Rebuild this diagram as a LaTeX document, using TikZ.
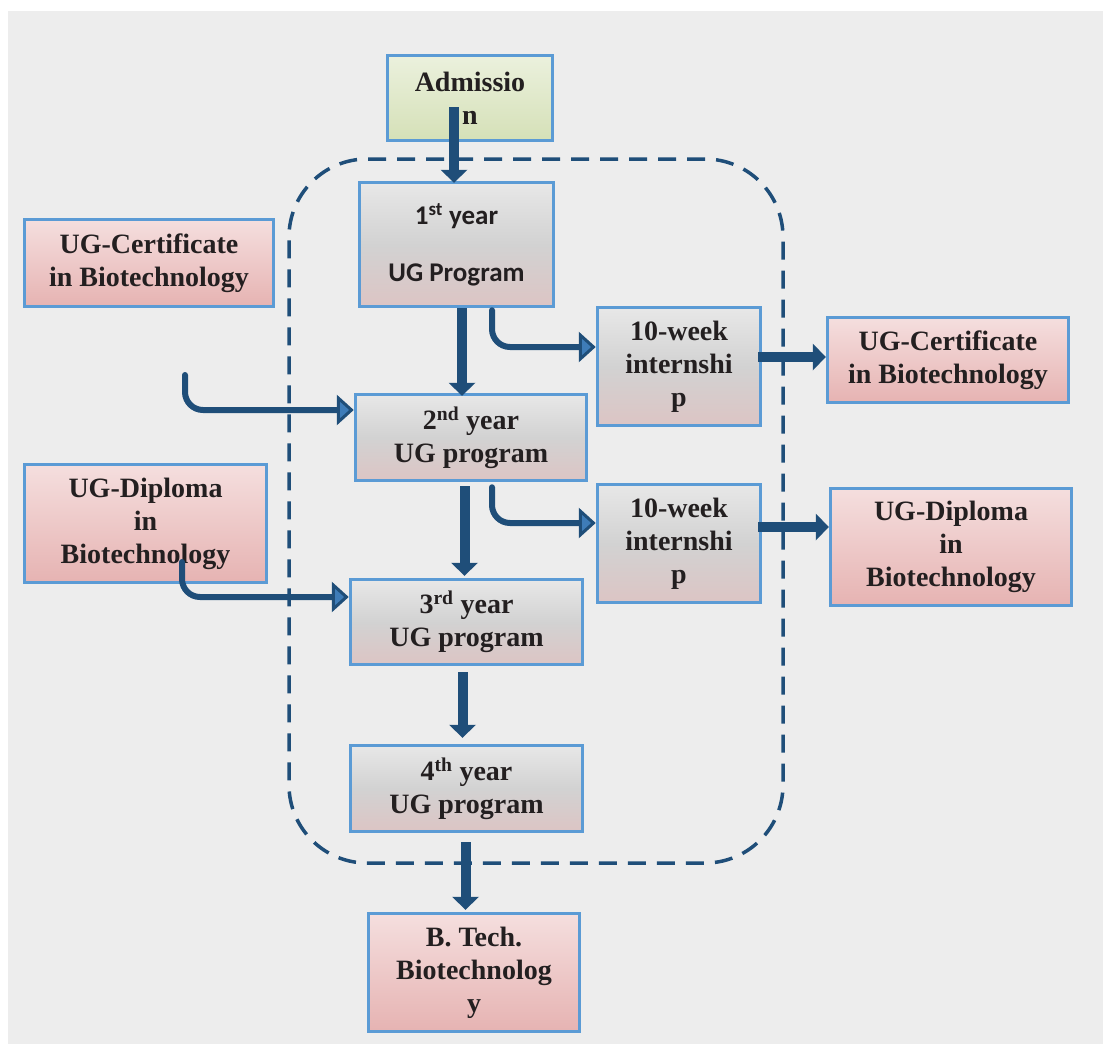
\documentclass[tikz,border=0pt]{standalone}
\usepackage{fontspec}
\setmainfont{Liberation Serif}
\newfontfamily\calib{Carlito}
\usetikzlibrary{arrows.meta}
\definecolor{bgc}{HTML}{EDEDED}
\definecolor{bord}{HTML}{5B9BD5}
\definecolor{dblue}{HTML}{1F4E79}
\definecolor{tblack}{HTML}{231F20}
\definecolor{headfill}{HTML}{3E7CB8}
\definecolor{yTop}{HTML}{FDFDFD}
\definecolor{yMid}{HTML}{D2D2D2}
\definecolor{yBot}{HTML}{E6B7B6}
\definecolor{pTop}{HTML}{FCF4F4}
\definecolor{pDark}{HTML}{E4ADAC}
\definecolor{pBot}{HTML}{EBC4C3}
\definecolor{gTop}{HTML}{F6F9F0}
\definecolor{gDark}{HTML}{D2DEB2}
\definecolor{gBot}{HTML}{D9E3C0}
\pgfdeclareverticalshading{yearsh}{100bp}{color(0bp)=(yBot); color(50bp)=(yMid); color(100bp)=(yTop)}
\pgfdeclareverticalshading{pinksh}{100bp}{color(0bp)=(pBot); color(18bp)=(pDark); color(100bp)=(pTop)}
\pgfdeclareverticalshading{greensh}{100bp}{color(0bp)=(gBot); color(18bp)=(gDark); color(100bp)=(gTop)}
\tikzset{
  box/.style={draw=bord, line width=3.5pt, align=center, text=tblack, inner sep=0pt,
    font=\bfseries\fontsize{28}{33}\selectfont},
  yearbox/.style={box, shading=yearsh},
  pinkbox/.style={box, shading=pinksh},
  greenbox/.style={box, shading=greensh},
  bigarrow/.style={draw=dblue, line width=10pt, -{Triangle[length=13pt,width=27pt,line width=0pt]}},
  curvearrow/.style={draw=dblue, line width=6pt, line cap=round, rounded corners=18pt,
    -{Triangle[length=17pt,width=30pt,fill=headfill,line width=3pt]}},
  dashbox/.style={draw=dblue, line width=3.5pt, dash pattern=on 18pt off 11pt, rounded corners=78pt, inner sep=0pt}
}
\begin{document}
\begin{tikzpicture}[x=1pt,y=-1pt]
\useasboundingbox (0,0) rectangle (1103,1044);
\fill[bgc] (8,11) rectangle (1103,1044);

\node[dashbox, minimum width=494pt, minimum height=704pt] (grp) at (536,511) {};

\node[greenbox, minimum width=165pt, minimum height=85pt] (adm) at (470,98) {Admissio\\n};
\node[yearbox, font=\calib\bfseries\fontsize{27}{33}\selectfont, minimum width=194pt, minimum height=124pt] (y1) at (456.5,244.5) {1\textsuperscript{st} year\\[24pt]UG Program};
\node[yearbox, minimum width=231pt, minimum height=86pt] (y2) at (471,437.5) {2\textsuperscript{nd} year\\UG program};
\node[yearbox, minimum width=232pt, minimum height=85pt] (y3) at (466.5,622) {3\textsuperscript{rd} year\\UG program};
\node[yearbox, minimum width=232pt, minimum height=86pt] (y4) at (466.5,788.5) {4\textsuperscript{th} year\\UG program};
\node[pinkbox, minimum width=211pt, minimum height=118pt] (bt) at (474,972.5) {B. Tech.\\Biotechnolog\\y};
\node[yearbox, minimum width=163pt, minimum height=118pt] (i1) at (679,366.5) {10-week\\internshi\\p};
\node[yearbox, minimum width=163pt, minimum height=118pt] (i2) at (679,543.5) {10-week\\internshi\\p};
\node[pinkbox, minimum width=241pt, minimum height=85pt] (rc) at (948,360) {UG-Certificate\\in Biotechnology};
\node[pinkbox, minimum width=241pt, minimum height=117pt] (rd) at (951,547) {UG-Diploma\\in\\Biotechnology};
\node[pinkbox, minimum width=249pt, minimum height=87pt] (lc) at (149,263) {UG-Certificate\\in Biotechnology};
\node[pinkbox, minimum width=242pt, minimum height=118pt] (ld) at (145.5,523.5) {UG-Diploma\\in\\Biotechnology};

\coordinate (cstart) at (185,375);

\draw[bigarrow] ([xshift=-16pt,yshift=-9pt]adm.center) -- ([xshift=-2.5pt,yshift=-2pt]y1.north);
\draw[bigarrow] ([xshift=5.5pt]y1.south) -- ([xshift=-9pt,yshift=-3pt]y2.north);
\draw[bigarrow] ([xshift=-6.5pt,yshift=-4pt]y2.south) -- ([xshift=-2pt,yshift=2pt]y3.north);
\draw[bigarrow] ([xshift=-4pt,yshift=-6pt]y3.south) -- ([xshift=-4pt,yshift=6pt]y4.north);
\draw[bigarrow] ([xshift=-1pt,yshift=-9pt]y4.south) -- ([xshift=-8.5pt,yshift=2pt]bt.north);
\draw[bigarrow] ([xshift=-4pt,yshift=9.5pt]i1.east) -- ([yshift=3pt]rc.west);
\draw[bigarrow] ([xshift=-4pt,yshift=16.5pt]i2.east) -- ([yshift=20pt]rd.west);

\draw[curvearrow] ([xshift=35.5pt,yshift=-2pt]y1.south) |- ([yshift=19.5pt]i1.west);
\draw[curvearrow] ([xshift=21pt,yshift=-5pt]y2.south) |- ([yshift=20.5pt]i2.west);
\draw[curvearrow] (cstart) |- ([yshift=27.5pt]y2.west);
\draw[curvearrow] ([xshift=36.5pt,yshift=-38.5pt]ld.center) |- ([yshift=25pt]y3.west);
\end{tikzpicture}
\end{document}
